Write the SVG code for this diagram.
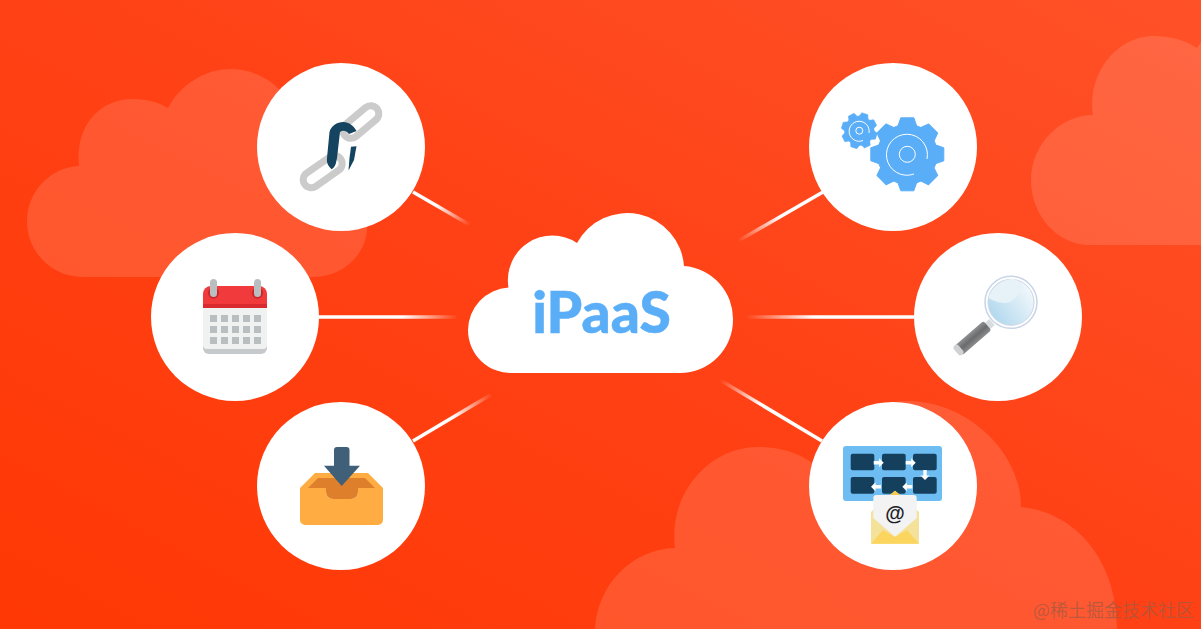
<svg xmlns="http://www.w3.org/2000/svg" width="1201" height="629" viewBox="0 0 1201 629">
<style>
.bgc{fill:#fff;fill-opacity:.13}
.node{fill:#fff}
.conn{stroke-width:3.5;fill:none}
.ring{fill:none;stroke:#fff;stroke-width:1}
.tile{fill:#14405e}
.cell{fill:#b9bec1}
.lnk{fill:none;stroke:#cbcbcb;stroke-width:7}
</style>
<defs>
<linearGradient id="bg" x1="0" y1="1" x2="1" y2="0"><stop offset="0" stop-color="#ff3804"/><stop offset=".5" stop-color="#ff4115"/><stop offset="1" stop-color="#ff5128"/></linearGradient>
<linearGradient id="c1" gradientUnits="userSpaceOnUse" x1="413" y1="192" x2="470" y2="225"><stop offset=".4" stop-color="#fff"/><stop offset="1" stop-color="#fff" stop-opacity="0"/></linearGradient>
<linearGradient id="c2" gradientUnits="userSpaceOnUse" x1="319" y1="317" x2="458" y2="317"><stop offset=".6" stop-color="#fff"/><stop offset="1" stop-color="#fff" stop-opacity="0"/></linearGradient>
<linearGradient id="c3" gradientUnits="userSpaceOnUse" x1="413" y1="441" x2="492" y2="394"><stop offset=".5" stop-color="#fff"/><stop offset="1" stop-color="#fff" stop-opacity="0"/></linearGradient>
<linearGradient id="c4" gradientUnits="userSpaceOnUse" x1="823" y1="192" x2="738" y2="241"><stop offset=".5" stop-color="#fff"/><stop offset="1" stop-color="#fff" stop-opacity="0"/></linearGradient>
<linearGradient id="c5" gradientUnits="userSpaceOnUse" x1="914" y1="317" x2="746" y2="317"><stop offset=".6" stop-color="#fff"/><stop offset="1" stop-color="#fff" stop-opacity="0"/></linearGradient>
<linearGradient id="c6" gradientUnits="userSpaceOnUse" x1="822" y1="441" x2="720" y2="380"><stop offset=".6" stop-color="#fff"/><stop offset="1" stop-color="#fff" stop-opacity="0"/></linearGradient>
<linearGradient id="lens" x1="0" y1="1" x2="1" y2=".3"><stop offset="0" stop-color="#a6d3ec"/><stop offset="1" stop-color="#f2f8fb"/></linearGradient>
<linearGradient id="hdl" x1="0" y1="0" x2="0" y2="1"><stop offset="0" stop-color="#8f9091"/><stop offset=".5" stop-color="#6a6b6c"/><stop offset="1" stop-color="#8a8b8c"/></linearGradient>
<path id="arr" d="M-5-1.700H.5V-4.500L5 0 .5 4.500V1.700H-5Z" fill="#fff"/>
<g id="gear" fill="#5aaef8" stroke="#5aaef8" stroke-width="1" stroke-linejoin="round">
<circle r="30"/>
<path id="th" d="M-9.500-28L-6.500-36.500H6.500L9.500-28Z"/>
<use href="#th" transform="rotate(45)"/><use href="#th" transform="rotate(90)"/><use href="#th" transform="rotate(135)"/><use href="#th" transform="rotate(180)"/><use href="#th" transform="rotate(225)"/><use href="#th" transform="rotate(270)"/><use href="#th" transform="rotate(315)"/>
</g>
</defs>
<rect width="1201" height="629" fill="url(#bg)"/>
<g id="background-clouds">
<path class="bgc" d="M82.500 277C52 277 27 252 27 221.500C27 191 51 167 79 166C75 125 100 99 133 99C148 99 160 103 168 108C180 85 205 69 230 69C262 69 290 90 300 125L310 170C345 172 367 198 367 227C367 255 342 277 313 277Z"/>
<path class="bgc" d="M1201 245H1090C1057 245 1031 215 1031 180C1031 145 1060 115 1093 115C1087 70 1120 36 1153 36C1170 36 1185 40 1197 48L1201 42V245Z"/>
<path class="bgc" d="M595 629C597 585 632 549 675 548C668 495 708 447 758 447C780 447 800 453 815 465C835 425 870 401 908 401C965 401 1021 450 1021 507C1075 512 1117 560 1117 629Z"/>
</g>
<g id="connectors">
<line class="conn" x1="413" y1="192" x2="470" y2="225" stroke="url(#c1)"/>
<line class="conn" x1="319" y1="317" x2="458" y2="317" stroke="url(#c2)"/>
<line class="conn" x1="413" y1="441" x2="492" y2="394" stroke="url(#c3)"/>
<line class="conn" x1="823" y1="192" x2="738" y2="241" stroke="url(#c4)"/>
<line class="conn" x1="914" y1="317" x2="746" y2="317" stroke="url(#c5)"/>
<line class="conn" x1="822" y1="441" x2="720" y2="380" stroke="url(#c6)"/>
</g>
<g id="node-ipaas">
<path class="node" d="M513 373A43 43 0 0 1 468 330A43 43 0 0 1 508.500 287.500A44.500 44.500 0 0 1 577 243A57 57 0 0 1 684 266A53 53 0 0 1 733 320A53 53 0 0 1 680 373Z"/>
<text x="601.500" y="332.700" text-anchor="middle" font-family="Lato, 'Noto Sans', sans-serif" font-weight="900" font-size="57" fill="#5aaef8" stroke="#5aaef8" stroke-width=".5">iPaaS</text>
</g>
<g id="node-link">
<circle class="node" cx="341" cy="147" r="84"/>
<rect class="lnk" x="300.700" y="163.700" width="44" height="16" rx="8" transform="rotate(-35 322.700 171.700)"/>
<rect class="lnk" x="339.800" y="114" width="42" height="16" rx="8" transform="rotate(-40 360.800 122)"/>
<path d="M331.700 169.300C328 166 326.500 163 327 158L329.500 132C331 126 337 122 343.300 122C349 122 354 126 356.500 131L349 134C346 130.500 343 130 340 132L337 158C336 163 335.500 167 331.700 169.300Z" fill="#14445f"/>
<path d="M351 146.700L356.500 146.200L354 160L348.500 170.500L349.500 158Z" fill="#14445f"/>
</g>
<g id="node-calendar">
<circle class="node" cx="235" cy="317" r="84"/>
<path d="M203 307V294a8 8 0 0 1 8-8h48a8 8 0 0 1 8 8V307Z" fill="#f03a3c"/>
<path d="M203 304h64v4H203Z" fill="#d92b2f"/>
<circle cx="213.500" cy="293" r="5.500" fill="#c8262b"/>
<circle cx="257.500" cy="293" r="5.500" fill="#c8262b"/>
<path d="M203 308h64v40a6 6 0 0 1-6 6H209a6 6 0 0 1-6-6Z" fill="#c5c9cb"/>
<path d="M203 308h64v37a4 4 0 0 1-4 4H207a4 4 0 0 1-4-4Z" fill="#f0f1f1"/>
<rect x="210" y="279" width="7" height="18" rx="3.500" fill="#b9bec1"/>
<rect x="254" y="279" width="7" height="18" rx="3.500" fill="#b9bec1"/>
<g class="cell">
<rect x="210" y="315" width="7" height="7"/><rect x="221" y="315" width="7" height="7"/><rect x="232" y="315" width="7" height="7"/><rect x="243" y="315" width="7" height="7"/><rect x="254" y="315" width="7" height="7"/>
<rect x="210" y="326" width="7" height="7"/><rect x="221" y="326" width="7" height="7"/><rect x="232" y="326" width="7" height="7"/><rect x="243" y="326" width="7" height="7"/><rect x="254" y="326" width="7" height="7"/>
<rect x="210" y="337" width="7" height="7"/><rect x="221" y="337" width="7" height="7"/><rect x="232" y="337" width="7" height="7"/><rect x="243" y="337" width="7" height="7"/><rect x="254" y="337" width="7" height="7"/>
</g>
</g>
<g id="node-inbox">
<circle class="node" cx="341" cy="486" r="84"/>
<path d="M300 488L315 473H368L383 488Z" fill="#ffad42"/>
<path d="M308 488L318 478H365L375 488Z" fill="#dd7f2b"/>
<path d="M300 488H326V492a7 7 0 0 0 7 7H351a7 7 0 0 0 7-7V488H383V520a5 5 0 0 1-5 5H305a5 5 0 0 1-5-5Z" fill="#ffad42"/>
<path d="M326 486H358V492a7 7 0 0 1-7 7H333a7 7 0 0 1-7-7Z" fill="#dd7f2b"/>
<path d="M334 450a3 3 0 0 1 3-3h9.500a3 3 0 0 1 3 3V465.700H360L341.700 486L324 465.700H334Z" fill="#3f6078"/>
</g>
<g id="node-gears">
<circle class="node" cx="893" cy="147" r="84"/>
<use href="#gear" transform="translate(907.300 154.300)"/>
<use href="#gear" transform="translate(859.300 130.700) rotate(18) scale(.49)"/>
<path class="ring" d="M914 174A20.500 20.500 0 1 1 927 159"/>
<circle class="ring" cx="907.300" cy="154.300" r="8"/>
<path class="ring" d="M863 140.500A10 10 0 1 1 869 133"/>
<circle class="ring" cx="859.300" cy="130.700" r="3.500"/>
</g>
<g id="node-search">
<circle class="node" cx="998" cy="317" r="84"/>
<line x1="986" y1="327.500" x2="992" y2="322" stroke="#d8dcdf" stroke-width="8"/>
<rect x="954" y="332" width="38" height="12" rx="2" fill="url(#hdl)" transform="rotate(-41 973 338)"/>
<rect x="955.500" y="344" width="6" height="12" rx="3" fill="#cfd1d2" transform="rotate(-41 958.500 350)"/>
<circle cx="1011" cy="302.300" r="26" fill="#fff" stroke="#c8d5e8" stroke-width="1.500"/>
<circle cx="1011" cy="302.300" r="23" fill="url(#lens)" stroke="#cbd6e6" stroke-width="1"/>
<path d="M988.300 298C992 285 1005 279 1012 279C1018 279 1022 283 1024 288C1018 292 1015 303 1005 303C998 303 992 300 988.300 298Z" fill="#e6f1f8"/>
</g>
<g id="node-email">
<circle class="node" cx="893" cy="486" r="84"/>
<rect x="843" y="446" width="99" height="55" rx="3" fill="#6dbcf2"/>
<rect class="tile" x="850.700" y="453.700" width="23.600" height="16.600" rx="2"/><rect class="tile" x="882" y="453.700" width="23.700" height="16.600" rx="2"/><rect class="tile" x="913" y="453.700" width="23.700" height="16.600" rx="2"/>
<rect class="tile" x="850.700" y="477" width="23.600" height="16.700" rx="2"/><rect class="tile" x="882" y="477" width="23.700" height="16.700" rx="2"/><rect class="tile" x="913" y="477" width="23.700" height="16.700" rx="2"/>
<use href="#arr" x="878.700" y="462.700"/><use href="#arr" x="910.700" y="462.700"/>
<use href="#arr" transform="translate(925 475) rotate(90)"/>
<use href="#arr" transform="translate(907.300 486.700) rotate(180)"/><use href="#arr" transform="translate(876 486.700) rotate(180)"/>
<path d="M871 512L895 490.700L919 512V543.700H871Z" fill="#f5e29a"/>
<path d="M887 497L895 490.700L903 497Z" fill="#f5c94f"/>
<path d="M873.300 498a3 3 0 0 1 3-3H913.700a3 3 0 0 1 3 3V518L895 536.700L873.300 518Z" fill="#f3f3f4"/>
<path d="M871 543.700L883 530L895 537L907 530L919 543.700Z" fill="#fcd55f"/>
<text x="895" y="520" text-anchor="middle" font-family="'Liberation Sans', sans-serif" font-weight="700" font-size="20" fill="#1d2226">@</text>
</g>
<text x="1033" y="617" font-family="'Noto Sans CJK SC', sans-serif" font-size="18" fill="#a8583f" fill-opacity=".75">@稀土掘金技术社区</text>
</svg>
